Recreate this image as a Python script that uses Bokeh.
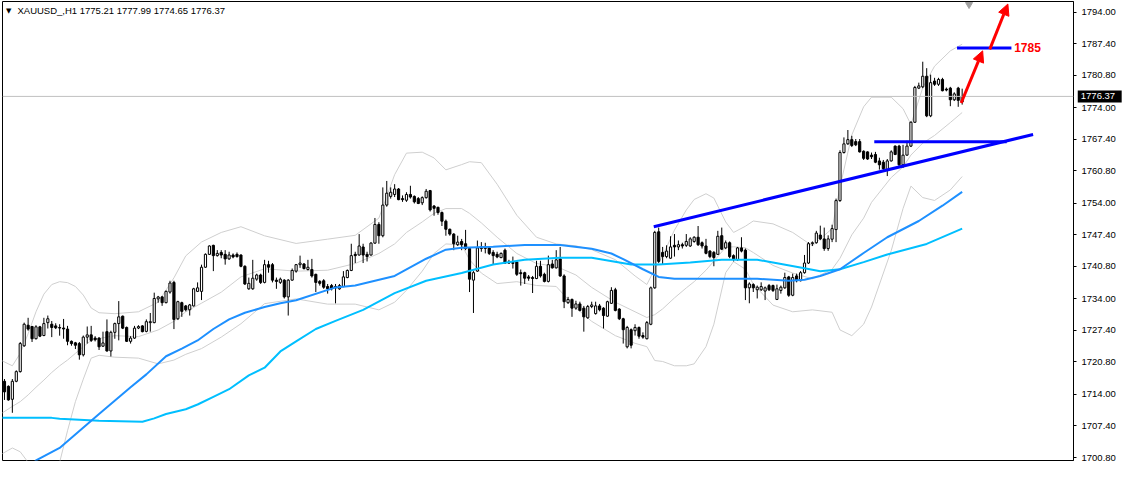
from bokeh.plotting import figure
from bokeh.layouts import row
from bokeh.models import Range1d, FixedTicker, NumeralTickFormatter, Label, Arrow, NormalHead, Span
from bokeh.core.properties import value
from bokeh.embed import file_html
from bokeh.resources import INLINE

title_text = "XAUUSD_,H1  1775.21 1777.99 1774.65 1776.37"
last_close = 1776.37
last_close_text = "1776.37"

open_ = [
 1716.76, 1715.70, 1712.99, 1716.76, 1718.78, 1724.18, 1728.49, 1728.22, 1725.66, 1728.15,
 1726.33, 1729.03, 1728.69, 1728.35, 1728.00, 1727.90, 1727.68, 1725.12, 1724.80, 1724.65,
 1722.29, 1726.00, 1726.47, 1725.80, 1725.79, 1724.10, 1727.14, 1723.10, 1727.00, 1728.83,
 1730.38, 1728.02, 1725.12, 1725.79, 1727.90, 1728.35, 1727.20, 1729.03, 1729.03, 1734.00,
 1734.42, 1733.21, 1735.43, 1737.45, 1729.84, 1733.21, 1732.53, 1731.72, 1732.53, 1735.57,
 1735.57, 1740.62, 1743.32, 1745.20, 1743.05, 1743.72, 1743.32, 1742.37, 1743.18, 1743.32,
 1743.18, 1740.82, 1736.11, 1736.11, 1738.13, 1739.00, 1737.45, 1741.16, 1741.16, 1737.92,
 1737.45, 1737.92, 1734.42, 1737.92, 1739.81, 1741.16, 1741.30, 1740.15, 1740.15, 1739.14,
 1737.66, 1737.79, 1736.58, 1736.78, 1736.58, 1736.10, 1736.58, 1738.46, 1739.95, 1743.32,
 1743.18, 1744.86, 1743.32, 1743.18, 1745.67, 1749.58, 1747.22, 1753.63, 1755.45, 1755.85,
 1756.99, 1754.98, 1754.64, 1755.85, 1755.45, 1754.98, 1754.10, 1755.18, 1756.66, 1753.43,
 1753.16, 1752.08, 1750.26, 1748.57, 1747.56, 1745.34, 1746.01, 1745.54, 1744.53, 1737.92,
 1739.81, 1744.86, 1744.53, 1744.66, 1743.72, 1743.32, 1742.64, 1744.19, 1741.70, 1741.63,
 1741.70, 1739.48, 1739.48, 1738.60, 1738.46, 1738.26, 1740.82, 1739.14, 1737.66, 1741.30,
 1740.49, 1742.37, 1738.80, 1733.21, 1733.88, 1732.06, 1732.94, 1732.06, 1730.04, 1732.40,
 1730.92, 1732.53, 1732.06, 1730.38, 1733.07, 1735.90, 1731.86, 1729.84, 1723.97, 1727.55,
 1727.34, 1728.02, 1726.33, 1725.66, 1728.69, 1736.31, 1748.04, 1743.73, 1742.85, 1742.51,
 1745.21, 1744.87, 1745.34, 1745.21, 1745.07, 1746.02, 1746.90, 1745.75, 1745.07, 1744.00,
 1743.73, 1743.32, 1747.23, 1744.67, 1745.75, 1743.05, 1742.18, 1744.67, 1744.20, 1736.31,
 1736.99, 1735.91, 1735.91, 1735.64, 1736.79, 1736.79, 1733.89, 1735.77, 1736.31, 1738.60,
 1734.76, 1738.81, 1737.80, 1739.48, 1741.50, 1745.55, 1745.75, 1747.36, 1746.55, 1744.53,
 1746.49, 1748.50, 1754.57, 1764.62, 1766.44, 1767.32, 1766.91, 1766.91, 1764.89, 1764.76,
 1764.08, 1764.22, 1762.87, 1762.60, 1761.05, 1762.87, 1765.97, 1765.97, 1762.06, 1764.08,
 1765.97, 1770.96, 1778.10, 1778.37, 1780.59, 1772.30, 1779.58, 1778.91, 1779.92, 1777.90,
 1778.10, 1775.67, 1778.10, 1775.21]

high = [
 1717.23, 1715.90, 1717.23, 1719.05, 1724.98, 1729.03, 1730.04, 1728.35, 1728.49, 1728.35,
 1730.04, 1730.51, 1729.37, 1728.90, 1728.70, 1729.80, 1728.35, 1725.30, 1725.00, 1724.98,
 1726.33, 1728.22, 1728.35, 1726.20, 1726.00, 1727.14, 1729.70, 1727.34, 1729.03, 1733.54,
 1730.51, 1728.22, 1726.20, 1728.35, 1728.49, 1728.49, 1729.70, 1731.05, 1735.30, 1734.62,
 1734.62, 1735.77, 1737.79, 1737.79, 1733.60, 1733.41, 1732.73, 1732.94, 1736.31, 1737.45,
 1741.16, 1743.52, 1745.20, 1745.34, 1744.20, 1744.20, 1744.20, 1743.86, 1743.52, 1743.72,
 1743.32, 1741.03, 1738.46, 1742.17, 1739.27, 1739.27, 1742.17, 1741.97, 1741.50, 1738.46,
 1738.46, 1738.13, 1738.13, 1740.35, 1741.30, 1743.05, 1741.50, 1742.17, 1742.37, 1739.27,
 1737.92, 1738.13, 1737.12, 1737.12, 1737.12, 1737.12, 1739.81, 1740.15, 1745.54, 1743.86,
 1747.56, 1745.54, 1743.86, 1745.88, 1750.93, 1750.05, 1757.33, 1758.68, 1757.33, 1758.01,
 1757.20, 1755.65, 1756.32, 1757.67, 1755.65, 1755.31, 1755.45, 1757.00, 1756.80, 1753.63,
 1753.29, 1752.28, 1750.60, 1748.71, 1747.76, 1747.22, 1746.55, 1748.44, 1744.66, 1739.81,
 1746.21, 1745.88, 1745.74, 1744.86, 1744.19, 1743.86, 1743.72, 1744.53, 1742.17, 1742.85,
 1741.83, 1740.15, 1739.68, 1739.00, 1738.80, 1741.97, 1741.97, 1739.48, 1743.05, 1742.17,
 1744.19, 1744.87, 1739.14, 1734.42, 1734.08, 1733.61, 1733.41, 1732.53, 1732.73, 1733.41,
 1733.41, 1732.94, 1732.26, 1733.61, 1736.44, 1736.31, 1732.06, 1730.04, 1728.35, 1727.81,
 1728.69, 1728.22, 1727.00, 1729.37, 1736.58, 1748.24, 1748.92, 1744.87, 1745.21, 1747.10,
 1747.57, 1746.22, 1745.75, 1747.57, 1746.90, 1747.10, 1749.25, 1746.02, 1746.56, 1744.20,
 1744.00, 1748.24, 1748.92, 1746.22, 1746.02, 1743.32, 1744.87, 1746.90, 1744.54, 1737.46,
 1737.26, 1736.79, 1737.46, 1736.58, 1737.12, 1736.99, 1736.99, 1736.79, 1739.48, 1738.81,
 1739.28, 1739.28, 1739.82, 1743.19, 1745.89, 1746.02, 1748.24, 1749.32, 1748.92, 1747.30,
 1749.52, 1754.98, 1765.09, 1767.79, 1769.34, 1768.12, 1767.45, 1767.45, 1765.09, 1764.89,
 1764.62, 1764.76, 1763.54, 1763.07, 1763.27, 1765.09, 1766.10, 1766.24, 1766.24, 1767.11,
 1771.16, 1778.57, 1779.25, 1783.63, 1782.28, 1780.93, 1780.26, 1780.26, 1780.26, 1778.23,
 1778.37, 1777.23, 1778.37, 1777.99]

low = [
 1712.85, 1712.70, 1710.16, 1716.56, 1718.58, 1723.97, 1727.34, 1724.98, 1725.52, 1726.00,
 1726.20, 1727.80, 1726.00, 1727.68, 1726.30, 1725.66, 1724.30, 1724.20, 1723.50, 1721.28,
 1721.95, 1724.65, 1724.98, 1725.10, 1723.30, 1723.97, 1722.96, 1721.95, 1725.66, 1725.32,
 1727.68, 1724.98, 1724.65, 1725.66, 1727.68, 1727.00, 1727.00, 1727.14, 1728.90, 1733.20,
 1732.54, 1733.07, 1735.10, 1727.68, 1729.57, 1730.24, 1731.39, 1730.51, 1732.40, 1735.43,
 1733.75, 1740.49, 1743.18, 1739.81, 1742.85, 1742.50, 1741.16, 1742.17, 1742.50, 1742.64,
 1740.62, 1736.91, 1735.90, 1735.90, 1737.79, 1737.12, 1737.25, 1739.48, 1737.45, 1736.11,
 1737.12, 1734.08, 1730.51, 1737.79, 1739.48, 1740.49, 1740.15, 1739.95, 1738.46, 1735.43,
 1736.78, 1736.11, 1735.10, 1735.77, 1733.07, 1735.90, 1736.44, 1738.33, 1739.81, 1741.50,
 1743.05, 1741.50, 1741.83, 1743.05, 1745.54, 1745.54, 1746.89, 1753.29, 1754.98, 1755.31,
 1754.64, 1754.30, 1754.30, 1754.98, 1753.96, 1753.83, 1753.63, 1754.98, 1752.28, 1751.40,
 1751.61, 1749.25, 1747.22, 1747.22, 1744.19, 1745.07, 1744.19, 1744.19, 1735.43, 1731.05,
 1739.68, 1743.86, 1743.52, 1743.18, 1741.16, 1742.51, 1742.51, 1741.30, 1741.30, 1740.35,
 1738.80, 1736.78, 1737.12, 1737.79, 1735.23, 1738.13, 1738.46, 1737.45, 1737.45, 1740.35,
 1740.35, 1738.60, 1732.06, 1732.94, 1730.24, 1731.72, 1731.39, 1727.14, 1729.84, 1732.06,
 1730.71, 1731.39, 1727.81, 1730.24, 1732.94, 1731.39, 1729.57, 1724.65, 1723.64, 1723.64,
 1726.33, 1725.66, 1725.66, 1725.52, 1728.49, 1736.11, 1741.50, 1741.17, 1742.51, 1742.38,
 1742.85, 1744.20, 1744.54, 1744.87, 1744.87, 1745.75, 1745.07, 1744.54, 1743.32, 1742.51,
 1740.83, 1743.19, 1744.20, 1744.40, 1742.51, 1741.84, 1741.97, 1743.73, 1733.75, 1733.08,
 1735.44, 1734.09, 1735.64, 1733.75, 1735.64, 1735.44, 1733.75, 1735.10, 1736.11, 1734.43,
 1734.56, 1737.46, 1737.66, 1739.28, 1741.30, 1745.07, 1745.55, 1746.29, 1744.06, 1744.06,
 1745.88, 1745.88, 1754.30, 1764.42, 1766.24, 1765.77, 1765.97, 1764.62, 1763.07, 1763.07,
 1763.27, 1762.40, 1761.05, 1760.85, 1759.70, 1762.73, 1764.08, 1761.72, 1761.38, 1763.94,
 1765.77, 1770.82, 1777.90, 1778.10, 1772.03, 1772.03, 1778.57, 1778.57, 1777.43, 1777.43,
 1774.32, 1775.40, 1774.19, 1774.65]

close = [
 1714.54, 1712.85, 1716.76, 1718.78, 1724.65, 1728.69, 1727.68, 1725.66, 1728.15, 1726.20,
 1728.83, 1729.84, 1728.02, 1727.95, 1727.90, 1727.70, 1725.12, 1724.65, 1724.30, 1722.29,
 1726.00, 1726.47, 1725.32, 1725.45, 1723.97, 1724.78, 1723.10, 1727.00, 1728.83, 1730.24,
 1727.88, 1725.12, 1725.79, 1727.88, 1728.20, 1727.14, 1729.23, 1729.23, 1734.08, 1734.40,
 1733.21, 1735.57, 1737.32, 1729.70, 1733.41, 1731.39, 1731.72, 1732.73, 1736.11, 1736.31,
 1740.62, 1743.32, 1745.07, 1743.05, 1743.52, 1743.18, 1742.37, 1743.18, 1742.78, 1742.85,
 1740.82, 1737.12, 1737.25, 1738.33, 1739.00, 1737.45, 1741.16, 1740.62, 1737.92, 1737.66,
 1738.13, 1734.42, 1737.92, 1739.95, 1741.16, 1741.50, 1740.35, 1740.62, 1738.80, 1737.45,
 1737.25, 1736.44, 1736.11, 1736.10, 1736.30, 1736.78, 1738.60, 1739.95, 1743.05, 1743.05,
 1745.07, 1743.18, 1742.85, 1745.67, 1749.58, 1747.22, 1753.63, 1756.12, 1756.32, 1756.99,
 1754.77, 1754.77, 1755.85, 1755.31, 1754.30, 1753.96, 1755.18, 1756.52, 1752.62, 1752.95,
 1752.08, 1750.26, 1748.57, 1747.56, 1745.54, 1745.88, 1745.34, 1744.53, 1738.13, 1739.48,
 1744.66, 1744.53, 1744.86, 1743.52, 1743.05, 1742.78, 1743.52, 1741.50, 1741.50, 1741.43,
 1739.14, 1739.27, 1738.33, 1738.33, 1738.26, 1740.82, 1738.80, 1737.66, 1741.16, 1740.49,
 1742.17, 1738.80, 1733.41, 1733.88, 1732.06, 1732.94, 1731.59, 1730.24, 1732.40, 1732.73,
 1732.53, 1731.72, 1730.51, 1733.41, 1735.77, 1731.59, 1729.84, 1727.55, 1728.02, 1724.31,
 1728.02, 1726.20, 1726.00, 1729.03, 1736.31, 1747.91, 1741.84, 1742.85, 1744.00, 1744.87,
 1744.87, 1745.34, 1745.07, 1746.02, 1746.56, 1746.90, 1745.34, 1745.07, 1743.53, 1742.85,
 1742.65, 1747.10, 1744.40, 1745.75, 1742.85, 1742.38, 1744.67, 1744.00, 1736.31, 1737.12,
 1736.31, 1736.45, 1736.58, 1736.31, 1735.91, 1735.77, 1736.11, 1736.45, 1738.47, 1734.76,
 1738.47, 1737.80, 1739.48, 1741.50, 1745.55, 1745.75, 1747.77, 1746.55, 1744.53, 1746.55,
 1748.71, 1754.57, 1764.62, 1766.44, 1767.32, 1766.10, 1766.24, 1764.76, 1763.41, 1763.27,
 1763.74, 1762.60, 1762.06, 1761.25, 1762.87, 1764.76, 1764.22, 1762.06, 1764.08, 1765.97,
 1770.96, 1778.23, 1778.57, 1780.59, 1772.30, 1779.25, 1778.91, 1779.92, 1777.56, 1777.70,
 1775.67, 1776.89, 1775.54, 1776.37]

bar = list(range(len(close)))

# moving averages
ma_fast_bar = [5, 8, 14, 24, 32, 36, 41, 45, 49, 53, 57, 61, 66, 70, 74, 84, 89, 99, 107, 112,
               116, 124, 132, 141, 149, 154, 157, 162, 166, 170, 182, 191, 199, 203, 207, 212,
               218, 224, 232, 238, 243]
ma_fast = [1697.3, 1700.2, 1702.8, 1709.9, 1715.5, 1718.2, 1722.0, 1723.6, 1725.3, 1727.7,
           1729.7, 1731.1, 1732.3, 1733.1, 1733.7, 1736.4, 1736.8, 1738.8, 1742.4, 1744.3,
           1744.7, 1744.9, 1745.3, 1745.3, 1744.5, 1743.5, 1742.3, 1740.2, 1738.6, 1738.2,
           1738.2, 1738.2, 1737.8, 1738.0, 1738.8, 1740.2, 1743.6, 1746.9, 1750.3, 1753.5,
           1756.4]
ma_slow_bar = [-1, 12, 14, 24, 35, 38, 41, 46, 49, 53, 57, 62, 66, 70, 74, 79, 84, 91, 99, 107,
               116, 124, 132, 141, 149, 159, 166, 174, 182, 191, 195, 203, 207, 212, 218, 224,
               234, 243]
ma_slow = [1709.1, 1709.1, 1708.9, 1708.5, 1708.3, 1709.0, 1709.9, 1710.9, 1711.9, 1713.5,
           1715.1, 1718.0, 1719.6, 1723.0, 1725.1, 1727.7, 1729.4, 1731.7, 1735.2, 1737.8,
           1739.4, 1741.2, 1742.2, 1742.6, 1742.6, 1741.2, 1741.2, 1741.6, 1742.2, 1742.2,
           1741.6, 1740.4, 1739.8, 1740.2, 1741.7, 1743.3, 1745.5, 1748.7]

# Bollinger bands
bb_bar = [-1, 2, 4, 6, 8, 10, 12, 14, 16, 18,
          20, 22, 24, 28, 34, 39, 43, 46, 50, 55,
          60, 66, 74, 82, 89, 95, 99, 102, 106, 109,
          112, 116, 118, 121, 125, 130, 135, 140, 145, 149,
          155, 160, 163, 165, 167, 170, 173, 175, 178, 180,
          183, 185, 188, 190, 195, 200, 205, 210, 212, 215,
          218, 220, 225, 228, 230, 233, 236, 240, 243]
bb_upper = [1721.2, 1720.0, 1722.6, 1726.7, 1731.3, 1735.0, 1737.0, 1737.6, 1737.4, 1736.6,
            1734.8, 1732.1, 1731.1, 1730.9, 1731.3, 1733.3, 1738.4, 1743.0, 1745.9, 1747.9,
            1749.1, 1747.2, 1745.6, 1746.5, 1747.3, 1750.9, 1760.0, 1764.5, 1764.7, 1763.5,
            1761.0, 1762.1, 1762.7, 1762.5, 1758.0, 1751.5, 1746.9, 1745.5, 1745.1, 1744.3,
            1742.2, 1738.8, 1737.0, 1740.3, 1743.0, 1748.4, 1752.6, 1754.8, 1756.0, 1755.1,
            1750.1, 1747.9, 1749.2, 1750.3, 1749.7, 1747.9, 1745.1, 1748.7, 1757.4, 1768.3,
            1774.2, 1776.2, 1776.2, 1773.8, 1770.5, 1778.2, 1782.7, 1785.9, 1787.3]
bb_middle = [1709.9, 1711.5, 1712.5, 1713.9, 1715.5, 1717.0, 1718.6, 1720.0, 1721.2, 1722.6,
             1724.0, 1725.3, 1725.7, 1726.3, 1726.1, 1727.5, 1729.3, 1731.3, 1733.1, 1735.4,
             1738.6, 1740.3, 1739.8, 1740.0, 1741.4, 1743.5, 1745.5, 1747.9, 1750.1, 1751.9,
             1752.9, 1752.9, 1751.9, 1749.9, 1746.9, 1743.5, 1741.4, 1740.8, 1739.0, 1736.4,
             1733.3, 1731.3, 1730.1, 1730.7, 1731.9, 1734.2, 1736.3, 1737.6, 1740.0, 1741.9,
             1744.8, 1744.9, 1744.7, 1743.7, 1741.0, 1739.4, 1738.2, 1740.2, 1742.5, 1747.4,
             1750.9, 1754.2, 1759.4, 1761.6, 1764.1, 1766.6, 1768.2, 1770.9, 1773.0]
bb_lower = [1701.4, 1702.8, 1702.0, 1699.8, 1697.4, 1695.7, 1696.3, 1699.8, 1706.4, 1712.5,
            1717.2, 1721.6, 1722.2, 1721.8, 1721.6, 1720.4, 1721.2, 1722.4, 1723.6, 1726.0,
            1728.8, 1733.0, 1734.0, 1732.9, 1732.9, 1731.7, 1733.3, 1735.8, 1739.8, 1743.5,
            1745.5, 1745.3, 1742.2, 1739.4, 1737.2, 1737.6, 1736.8, 1736.6, 1732.1, 1729.3,
            1726.3, 1724.7, 1724.0, 1721.1, 1720.9, 1720.0, 1720.0, 1720.4, 1724.0, 1728.7,
            1739.5, 1741.8, 1740.2, 1737.1, 1732.7, 1731.3, 1731.7, 1731.2, 1727.5, 1726.3,
            1728.7, 1732.3, 1744.1, 1752.9, 1757.6, 1755.2, 1754.6, 1756.8, 1759.6]

y_ticks = [1700.8, 1707.4, 1714.0, 1720.8, 1727.4, 1734.0, 1740.8, 1747.4,
           1754.0, 1760.8, 1767.4, 1774.0, 1780.8, 1787.4, 1794.0]

# drawn annotations
trend_bar = [164.75, 261.0]
trend_price = [1749.1, 1768.4]
support_bar = [220.7, 254.3]
support_price = [1766.9, 1766.9]
target_bar = [241.7, 255.5]
target_price = [1786.5, 1786.5]
target_text = "1785"
arrow1 = dict(x_start=242.75, y_start=1775.0, x_end=248.2, y_end=1785.9)
arrow2 = dict(x_start=250.0, y_start=1786.2, x_end=254.6, y_end=1795.7)
shift_marker = ([244.75], [1795.6])

W, H = 1123, 462
RIGHT = 50
p = figure(width=W, height=H, output_backend="svg", toolbar_location=None,
           x_range=Range1d(-0.5, 271.25), y_range=Range1d(1700.18, 1796.23),
           y_axis_location="right", min_border_left=2, min_border_top=1,
           min_border_bottom=2, min_border_right=RIGHT)
p.xaxis.visible = False
p.grid.visible = False
p.outline_line_color = "black"
p.outline_line_width = 1
p.background_fill_color = "white"
p.border_fill_color = "white"

ax = p.yaxis[0]
ax.ticker = FixedTicker(ticks=y_ticks)
ax.formatter = NumeralTickFormatter(format="0.00")
ax.major_label_text_font = "Liberation Sans"
ax.major_label_text_font_size = "9.5px"
ax.major_label_text_color = "black"
ax.major_tick_out = 3
ax.major_tick_in = 0
ax.minor_tick_line_color = None
ax.axis_line_color = "black"
ax.major_tick_line_color = "black"
ax.major_label_standoff = 5

# bands
band_color = "#CFCFCF"
p.line(bb_bar, bb_upper, line_color=band_color, line_width=1)
p.line(bb_bar, bb_middle, line_color=band_color, line_width=1)
p.line(bb_bar, bb_lower, line_color=band_color, line_width=1)

# last price line
p.add_layout(Span(location=last_close, dimension="width", line_color="#C0C0C0", line_width=1))

# candles
up = [i for i in bar if close[i] >= open_[i]]
dn = [i for i in bar if close[i] < open_[i]]
p.segment(x0=bar, y0=low, x1=bar, y1=high, line_color="black", line_width=1)
p.vbar(x=up, width=0.55, bottom=[open_[i] for i in up], top=[close[i] for i in up],
       fill_color="white", line_color="black", line_width=1)
p.vbar(x=dn, width=0.55, bottom=[close[i] for i in dn], top=[open_[i] for i in dn],
       fill_color="black", line_color="black", line_width=1)

# moving averages
p.line(ma_slow_bar, ma_slow, line_color="#00BFFF", line_width=2)
p.line(ma_fast_bar, ma_fast, line_color="#1E90FF", line_width=2)

# trend lines
p.line(trend_bar, trend_price, line_color="#0000FF", line_width=3)
p.line(support_bar, support_price, line_color="#0000FF", line_width=3)
p.line(target_bar, target_price, line_color="#0000FF", line_width=3)

# arrows
for a in (arrow1, arrow2):
    p.add_layout(Arrow(end=NormalHead(size=11, fill_color="red", line_color="red", line_width=1),
                       line_color="red", line_width=3, **a))

p.add_layout(Label(x=256.2, y=target_price[0], text=target_text, text_color="red",
                   text_font="Liberation Sans", text_font_size="12px",
                   text_font_style="bold", text_baseline="middle"))

# shift marker
p.scatter(shift_marker[0], shift_marker[1], marker="inverted_triangle", size=7,
          fill_color="#A0A0A0", line_color="#A0A0A0")

# title
p.add_layout(Label(x=0.4, y=1794.3, text="\u25BC", text_color="black",
                   text_font="DejaVu Sans", text_font_size="7px", text_baseline="middle"))
p.add_layout(Label(x=3.3, y=1794.3, text=title_text, text_color="black",
                   text_font="Liberation Sans", text_font_size="9.5px", text_baseline="middle"))

# price box on the axis: a small transparent overlay figure sharing the y range
BOXW = 47
box = figure(width=BOXW, height=H, output_backend="svg", toolbar_location=None,
             x_range=Range1d(0, 1), y_range=p.y_range,
             x_axis_location=None, y_axis_location=None,
             min_border_left=0, min_border_right=0, min_border_top=1, min_border_bottom=2,
             margin=(0, 0, 0, -(RIGHT - 4)))
box.grid.visible = False
box.outline_line_color = None
box.background_fill_alpha = 0
box.border_fill_alpha = 0
box.rect(x=[0.47], y=[last_close], width=[0.94], height=[12], height_units="screen",
         fill_color="black", line_color=None)
box.text(x=[0.07], y=[last_close], text=[last_close_text], text_color="white",
         text_font=value("Liberation Sans"), text_font_size="9.5px", text_baseline="middle")

layout = row(p, box)

open("out.html", "w").write(file_html(layout, INLINE))
